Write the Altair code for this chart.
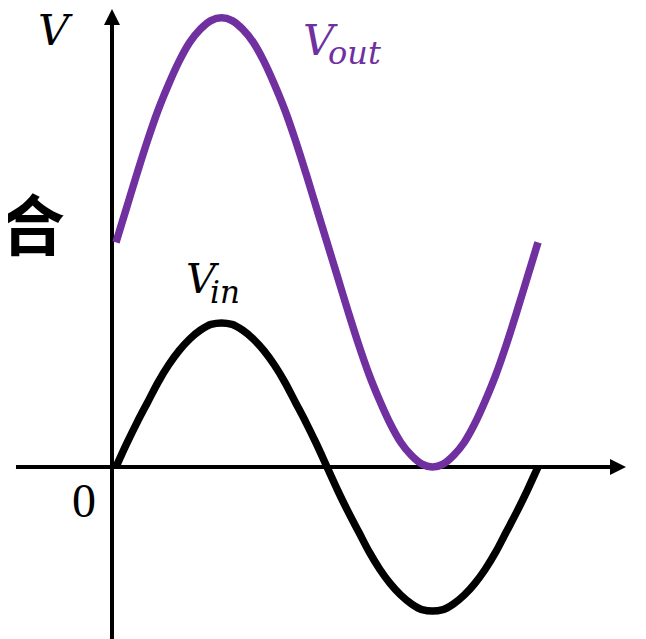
import altair as alt
import pandas as pd

# Data (t in arbitrary units, one period = 20; V in units of Vin amplitude)
t_vals = [i * 0.5 for i in range(41)]
vin_vals = [0, 0.16, 0.31, 0.45, 0.59, 0.71, 0.81, 0.89, 0.95, 0.99, 1.00,
            0.99, 0.95, 0.89, 0.81, 0.71, 0.59, 0.45, 0.31, 0.16, 0,
            -0.16, -0.31, -0.45, -0.59, -0.71, -0.81, -0.89, -0.95, -0.99, -1.00,
            -0.99, -0.95, -0.89, -0.81, -0.71, -0.59, -0.45, -0.31, -0.16, 0]
vout_vals = [1.56, 1.80, 2.04, 2.27, 2.48, 2.66, 2.82, 2.95, 3.04, 3.10, 3.12,
             3.10, 3.04, 2.95, 2.82, 2.66, 2.48, 2.27, 2.04, 1.80, 1.56,
             1.32, 1.08, 0.85, 0.64, 0.46, 0.30, 0.17, 0.08, 0.02, 0.00,
             0.02, 0.08, 0.17, 0.30, 0.46, 0.64, 0.85, 1.08, 1.32, 1.56]

W, H = 630, 631
PX_PER_T = 21.1
PX_PER_V = 144.0
T_MIN = -108 / PX_PER_T
T_MAX = T_MIN + W / PX_PER_T
V_MAX = 459 / PX_PER_V
V_MIN = V_MAX - H / PX_PER_V

PURPLE = "#7030A0"

df = pd.DataFrame({"t": t_vals, "vin": vin_vals, "vout": vout_vals})

xs = alt.Scale(domain=[T_MIN, T_MAX], range=[0, W], nice=False, zero=False)
ys = alt.Scale(domain=[V_MIN, V_MAX], range=[H, 0], nice=False, zero=False)

X = lambda f: alt.X(f, type="quantitative", scale=xs, axis=None)
Y = lambda f: alt.Y(f, type="quantitative", scale=ys, axis=None)

axis_x = -0.19
axes_df = pd.DataFrame({
    "x1": [axis_x, -4.74], "x2": [axis_x, 23.51],
    "y1": [V_MIN, 0.0], "y2": [3.07, 0.0],
})
axes = alt.Chart(axes_df).mark_rule(color="black", strokeWidth=4).encode(
    x=X("x1"), x2="x2", y=Y("y1"), y2="y2")

arrows_df = pd.DataFrame({
    "x": [axis_x, 23.79], "y": [3.125, 0.0],
    "shape": ["M0,-1L1,1L-1,1Z", "M1,0L-1,-1L-1,1Z"],
})
arrows = alt.Chart(arrows_df).mark_point(filled=True, opacity=1, color="black",
                                          size=256, strokeWidth=0).encode(
    x=X("x"), y=Y("y"), shape=alt.Shape("shape:N", scale=None))

vout_line = alt.Chart(df).mark_line(color=PURPLE, strokeWidth=7.5,
                                    interpolate="monotone").encode(
    x=X("t"), y=Y("vout"))
vin_line = alt.Chart(df).mark_line(color="black", strokeWidth=7.5,
                                   interpolate="monotone").encode(
    x=X("t"), y=Y("vin"))


def txt(s, x, y, size, color="black", font="DejaVu Serif", italic=True,
        weight="normal", align="left", baseline="alphabetic"):
    return alt.Chart(pd.DataFrame({"s": [s]})).mark_text(
        font=font, fontSize=size, fontStyle="italic" if italic else "normal",
        fontWeight=weight, color=color, align=align, baseline=baseline).encode(
        text="s:N", x=alt.value(x), y=alt.value(y))


labels = [
    txt("V", 30, 37, 43),
    txt("V", 295, 47, 43, PURPLE),
    txt("out", 320, 56, 32, PURPLE),
    txt("V", 178, 285, 41),
    txt("in", 202, 295, 31),
    txt("0", 64, 509, 48, font="Liberation Serif", italic=False),
    txt("t", 628, 502, 44),
    txt("合", 24, 222, 66, font="Noto Sans CJK SC", italic=False,
        weight="bold", align="center", baseline="middle"),
]

chart = alt.layer(axes, arrows, vout_line, vin_line, *labels).properties(
    width=W, height=H, padding=0, autosize=alt.AutoSizeParams(type="none")
).configure_view(stroke=None)

chart.save("out.html", embed_options={"renderer": "svg", "actions": False})
